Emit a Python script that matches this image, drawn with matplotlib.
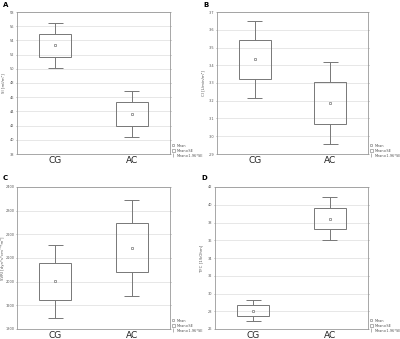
import matplotlib.pyplot as plt
from matplotlib.lines import Line2D
from matplotlib.patches import Rectangle

groups = ['CG', 'AC']

# mean, standard error, 1.96*SE for each panel
si_mean = [53.3, 43.65]
si_se = [1.65, 1.64]
si_ci = [3.2, 3.2]

ci_mean = [3.433, 3.188]
ci_se = [0.11, 0.12]
ci_ci = [0.215, 0.233]

svri_mean = [2001, 2143]
svri_se = [78, 103]
svri_ci = [153, 202]

tfc_mean = [28.05, 38.43]
tfc_se = [0.62, 1.2]
tfc_ci = [1.2, 2.42]

panels = [
    ('A', 'SI [ml/m²]', si_mean, si_se, si_ci, (38, 58), 2),
    ('B', 'CI [L/min/m²]', ci_mean, ci_se, ci_ci, (2.9, 3.7), 0.1),
    ('C', 'SVRI [dyn*s*cm⁻⁵*m²]', svri_mean, svri_se, svri_ci, (1800, 2400), 100),
    ('D', 'TFC [1/kOhm]', tfc_mean, tfc_se, tfc_ci, (26, 42), 2),
]

# axes rectangles in pixels (left, top, width, height)
W, H = 400, 339
boxes = [(17, 12, 153, 142), (217, 12, 151, 142), (17, 187, 153, 142), (215, 187, 153, 142)]
letters_pos = [(3, 2), (203, 2), (3, 175), (201, 175)]

line_c = '#777777'
fig = plt.figure(figsize=(4, 3.39), dpi=100)

for (letter, ylab, mean, se, ci, ylim, step), (l, t, w, h), (lx, ly) in zip(panels, boxes, letters_pos):
    ax = fig.add_axes([l / W, 1 - (t + h) / H, w / W, h / H])
    x = list(range(len(groups)))
    lo_box = [m - s for m, s in zip(mean, se)]
    hi_box = [m + s for m, s in zip(mean, se)]
    lo_w = [m - c for m, c in zip(mean, ci)]
    hi_w = [m + c for m, c in zip(mean, ci)]
    ax.bar(x, [2 * s for s in se], bottom=lo_box, width=0.42, fill=False,
           edgecolor=line_c, linewidth=0.7, zorder=3)
    ax.vlines(x, hi_box, hi_w, color=line_c, linewidth=0.7, zorder=3)
    ax.vlines(x, lo_w, lo_box, color=line_c, linewidth=0.7, zorder=3)
    ax.hlines(hi_w, [i - 0.1 for i in x], [i + 0.1 for i in x], color=line_c, linewidth=0.7, zorder=3)
    ax.hlines(lo_w, [i - 0.1 for i in x], [i + 0.1 for i in x], color=line_c, linewidth=0.7, zorder=3)
    ax.plot(x, mean, 's', ms=2, mfc='white', mec=line_c, mew=0.5, zorder=4)

    ax.set_xlim(-0.5, 1.5)
    ax.set_ylim(*ylim)
    n = int(round((ylim[1] - ylim[0]) / step))
    ticks = [ylim[0] + i * step for i in range(n + 1)]
    ax.set_yticks(ticks)
    if step < 1:
        ax.set_yticklabels([f'{v:.1f}' for v in ticks])
    ax.set_xticks(x)
    ax.set_xticklabels(groups, fontsize=6.5, color='#222222')
    ax.tick_params(axis='y', labelsize=2.5, labelcolor='#555555', length=1,
                   width=0.4, color=line_c, right=True, direction='out', pad=0.8)
    ax.tick_params(axis='x', length=0, pad=1.5)
    ax.grid(axis='y', color='#dddddd', linewidth=0.5)
    ax.set_axisbelow(True)
    for sp in ax.spines.values():
        sp.set_color('#999999')
        sp.set_linewidth(0.6)
    ax.set_ylabel(ylab, fontsize=2.8, color='#555555')
    ax.yaxis.set_label_coords((lx + 2.5 - l) / w, 0.5)

    fig.text(lx / W, 1 - ly / H, letter, fontsize=5, fontweight='bold', va='top', ha='left')

    handles = [
        Line2D([], [], marker='s', ms=1.5, mfc='white', mec=line_c, mew=0.4, ls=''),
        Rectangle((0, 0), 1, 1, fill=False, edgecolor=line_c, linewidth=0.4),
        Line2D([], [], marker='|', ms=3, color=line_c, mew=0.4, ls=''),
    ]
    ax.legend(handles, ['Mean', 'Mean±SE', 'Mean±1.96*SE'], loc='lower left',
              bbox_to_anchor=(1.0, -0.04), frameon=False, fontsize=2.5,
              handlelength=0.8, handletextpad=0.4, labelspacing=0.3, borderaxespad=0.2,
              labelcolor='#555555')

fig.savefig('out.png', dpi=100)
